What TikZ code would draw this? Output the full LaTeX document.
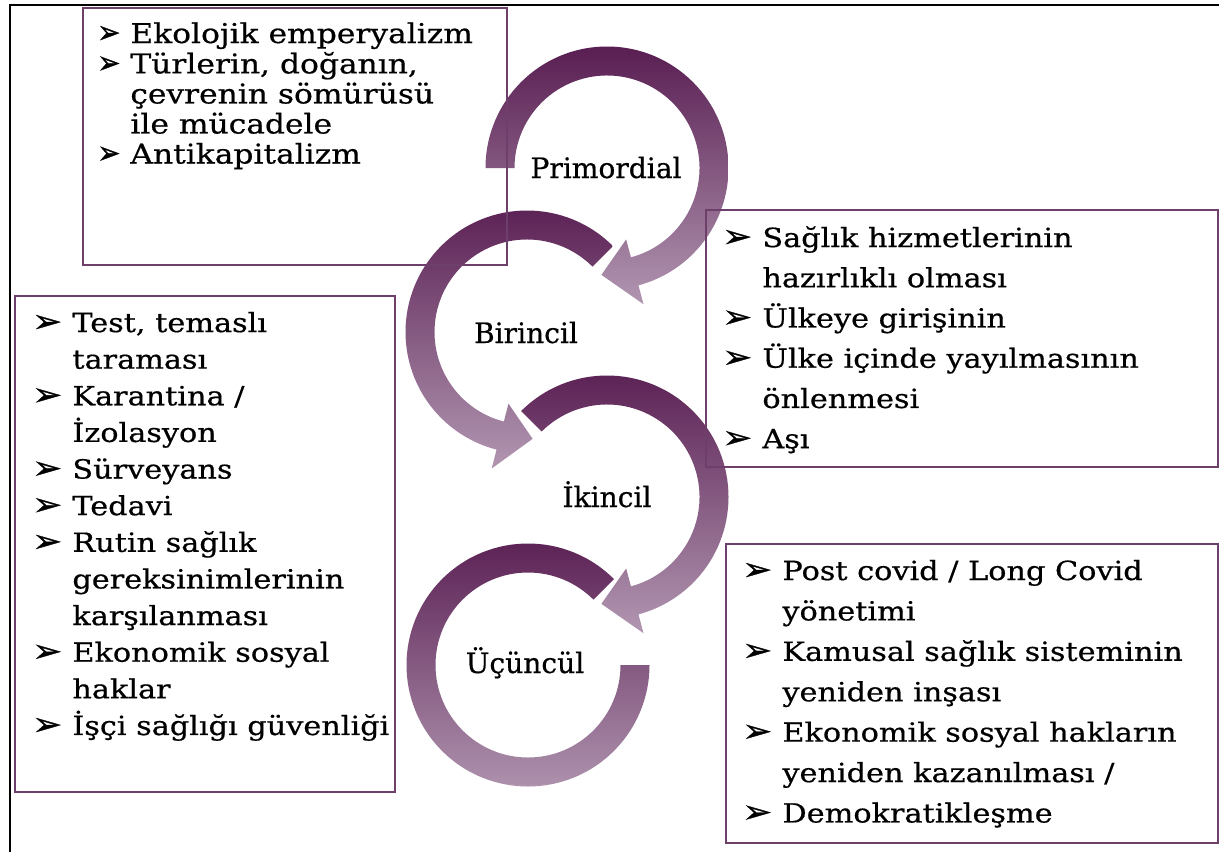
\documentclass[tikz,border=0pt]{standalone}
\usepackage{graphicx}
\usepackage{fontspec}
\setmainfont{DejaVu Serif}[FakeStretch=1.15, FakeBold=0.6]
\newfontfamily\labelfont{DejaVu Serif}[FakeBold=0.6]
\newfontfamily\symfont{DejaVu Sans}[FakeBold=1]
\definecolor{ringdark}{HTML}{591E52}
\definecolor{ringlight}{HTML}{B196B1}
\definecolor{boxline}{HTML}{6E3F6B}
% bullet: #1 horizontal scale, #2 column width
\newcommand\bul[2]{\makebox[#2][l]{\scalebox{#1}[1.2]{\symfont\fontsize{15}{15}\selectfont ➢}}}
% circular arrow: #1 centre, #2 tail angle, #3 angle where the head starts, #4 tip angle
\newcommand\circarrow[4]{%
  \shade[ringshade, shift={#1}] (#2:121.5) arc[start angle=#2, end angle=#3, radius=121.5]
    -- (#3:141) -- (#4:107) -- (#3:74) -- (#3:92.5)
    arc[start angle=#3, end angle=#2, radius=92.5] -- cycle;}
\begin{document}
\begin{tikzpicture}[x=0.02cm, y=0.02cm,
  ringshade/.style={top color=ringdark, bottom color=ringlight, draw=none},
  listbox/.style={draw=boxline, line width=0.85pt},
  listtext/.style={anchor=base west, inner sep=0pt, align=left},
  phase/.style={anchor=base, inner sep=0pt, font=\labelfont\fontsize{16}{19}\selectfont}]
\useasboundingbox (0,-852) rectangle (1219,0);
\fill[white] (0,-852) rectangle (1219,0);

% frame
\draw[line width=1.15pt] (10,-852) -- (10,-5) -- (1219,-5);

% circular arrows
\circarrow{(607,-168)}{180}{-75}{-93}
\circarrow{(527,-332)}{45}{255.5}{273}
\circarrow{(607,-497)}{135}{-75}{-93}
\shade[ringshade, shift={(528,-665)}] (45:121.5) arc[start angle=45, end angle=360, radius=121.5]
  -- (360:92.5) arc[start angle=360, end angle=45, radius=92.5] -- cycle;

% phase labels
\node[phase] (prim) at (606,-178) {Primordial};
\node[phase] (bir)  at (526,-343) {Birincil};
\node[phase] (iki)  at (607,-507) {İkincil};
\node[phase] (ucu)  at (525,-673) {Üçüncül};

% list boxes
\draw[listbox] (83,-8) rectangle (507,-265);
\draw[listbox] (706,-210) rectangle (1218,-467);
\draw[listbox] (726,-544) rectangle (1218,-843);
\draw[listbox] (15,-296) rectangle (395,-792);

\node[listtext, font=\fontsize{15.5}{17.1}\selectfont] (primlist) at (97,-43) {%
  \begin{tabular}[t]{@{}l@{}l@{}}
  \bul{1.05}{18.8pt} & Ekolojik emperyalizm\\
  \bul{1.05}{18.8pt} & Türlerin, doğanın,\\
   & çevrenin sömürüsü\\
   & ile mücadele\\
  \bul{1.05}{18.8pt} & Antikapitalizm
  \end{tabular}};

\node[listtext, font=\fontsize{15}{22.9}\selectfont] (birlist) at (722,-247) {%
  \begin{tabular}[t]{@{}l@{}l@{}}
  \bul{1.35}{22.8pt} & Sağlık hizmetlerinin\\
   & hazırlıklı olması\\
  \bul{1.35}{22.8pt} & Ülkeye girişinin\\
  \bul{1.35}{22.8pt} & Ülke içinde yayılmasının\\
   & önlenmesi\\
  \bul{1.35}{22.8pt} & Aşı
  \end{tabular}};

\node[listtext, font=\fontsize{15}{20.85}\selectfont] (ikilist) at (32,-332) {%
  \begin{tabular}[t]{@{}l@{}l@{}}
  \bul{1.35}{22.8pt} & Test, temaslı\\
   & taraması\\
  \bul{1.35}{22.8pt} & Karantina /\\
   & İzolasyon\\
  \bul{1.35}{22.8pt} & Sürveyans\\
  \bul{1.35}{22.8pt} & Tedavi\\
  \bul{1.35}{22.8pt} & Rutin sağlık\\
   & gereksinimlerinin\\
   & karşılanması\\
  \bul{1.35}{22.8pt} & Ekonomik sosyal\\
   & haklar\\
  \bul{1.35}{22.8pt} & İşçi sağlığı güvenliği
  \end{tabular}};

\node[listtext, font=\fontsize{15}{23}\selectfont] (uculist) at (742,-580) {%
  \begin{tabular}[t]{@{}l@{}l@{}}
  \bul{1.35}{22.8pt} & Post covid / Long Covid\\
   & yönetimi\\
  \bul{1.35}{22.8pt} & Kamusal sağlık sisteminin\\
   & yeniden inşası\\
  \bul{1.35}{22.8pt} & Ekonomik sosyal hakların\\
   & yeniden kazanılması /\\
  \bul{1.35}{22.8pt} & Demokratikleşme
  \end{tabular}};
\end{tikzpicture}
\end{document}
